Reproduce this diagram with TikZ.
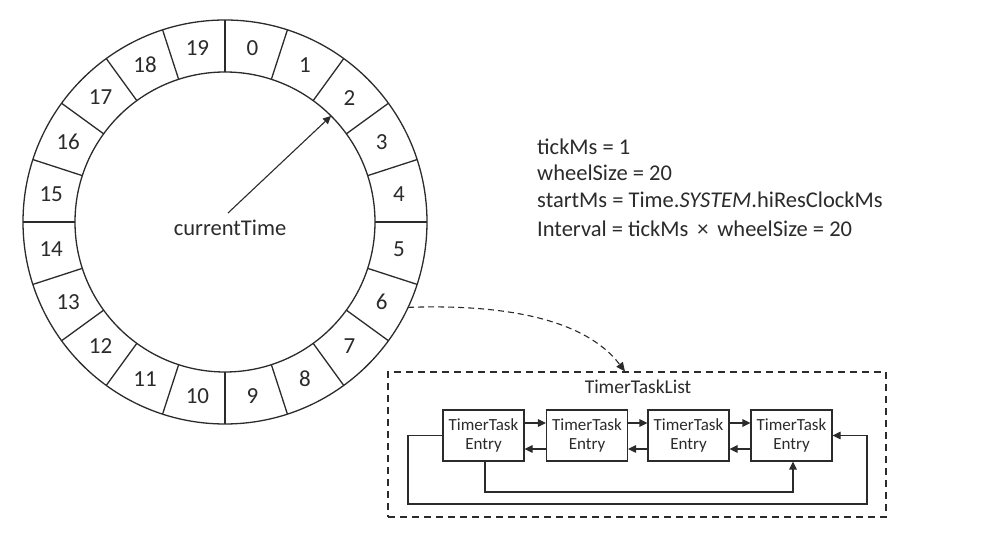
\documentclass[tikz,border=0pt]{standalone}
\usepackage{fontspec}
\setmainfont{Carlito}
\usetikzlibrary{arrows.meta,calc}
\definecolor{ink}{HTML}{2B2B2B}
\tikzset{
  wheelline/.style={draw=ink, line width=1.3pt},
  slotlabel/.style={text=ink, font=\fontsize{23}{23}\selectfont, inner sep=0pt},
  info/.style={text=ink, font=\fontsize{22.5}{22.5}\selectfont, anchor=west, inner sep=0pt},
  entrybox/.style={draw=ink, line width=1.1pt, minimum width=81pt, minimum height=51pt,
    align=center, text=ink, font=\fontsize{17}{19.5}\selectfont, inner sep=0pt},
  link/.style={draw=ink, line width=1.1pt, -{Triangle[length=8pt,width=7.5pt]}},
  listbox/.style={draw=ink, line width=1.1pt, dash pattern=on 7pt off 5pt,
    minimum width=498pt, minimum height=145pt, inner sep=0pt},
}
\begin{document}
\begin{tikzpicture}[x=1pt,y=1pt]
\useasboundingbox[fill=white] (0,0) rectangle (982,534);

% ---- timing wheel ----
\coordinate (hub) at (225,312);
\draw[wheelline] (hub) circle[radius=202pt];
\draw[wheelline] (hub) circle[radius=150pt];
\foreach \k in {0,...,19}{
  \draw[wheelline] ($(hub)+(\k*18:150pt)$) -- ($(hub)+(\k*18:202pt)$);
  \node[slotlabel] (s\k) at ($(hub)+({81-18*\k}:176pt)$) {\k};
}

% current time pointer
\node[text=ink, font=\fontsize{22.5}{22.5}\selectfont, inner sep=0pt] (ct) at (230,306) {currentTime};
\coordinate (ptrstart) at (228,321);
\coordinate (ptrend) at ($(hub)+(45:150pt)$);
\draw[link] (ptrstart) -- (ptrend);

% ---- parameters ----
\node[info] (p1) at (537,387) {tickMs = 1};
\node[info] (p2) at (537,361) {wheelSize = 20};
\node[info] (p3) at (537,334) {startMs = Time.\textit{SYSTEM}.hiResClockMs};
\node[info] (p4) at (537,305) {Interval = tickMs \,×\, wheelSize = 20};

% ---- bucket list ----
\node[listbox] (tlist) at (637,89.5) {};
\node[text=ink, font=\fontsize{19.5}{19.5}\selectfont, inner sep=0pt] (tlabel) at (638,147) {TimerTaskList};

\node[entrybox] (e1) at (483.5,98.5) {TimerTask\\Entry};
\node[entrybox] (e2) at (587,98.5) {TimerTask\\Entry};
\node[entrybox] (e3) at (688.5,98.5) {TimerTask\\Entry};
\node[entrybox] (e4) at (791.5,98.5) {TimerTask\\Entry};

% forward and backward links
\foreach \a/\b in {e1/e2,e2/e3,e3/e4}{
  \draw[link] ([yshift=12.5pt]\a.east) -- ([yshift=12.5pt]\b.west);
  \draw[link] ([yshift=-13.5pt]\b.west) -- ([yshift=-13.5pt]\a.east);
}

% wrap-around links
\draw[link] (e1.west) -- (408,98.5) -- (408,30) -- (867,30) -- (867,98.5) -- (e4.east);
\draw[link] ([xshift=1.5pt]e1.south) -- (485,42) -- (793,42) -- ([xshift=1.5pt]e4.south);

% slot 6 points at its list
\coordinate (slotsix) at ($(hub)+(-25:202pt)$);
\draw[draw=ink, line width=1.1pt, dash pattern=on 6pt off 4pt, -{Triangle[length=9pt,width=8pt]}]
  (slotsix) .. controls (505,230) and (585,215) .. ([xshift=-12pt]tlist.north);
\end{tikzpicture}
\end{document}
